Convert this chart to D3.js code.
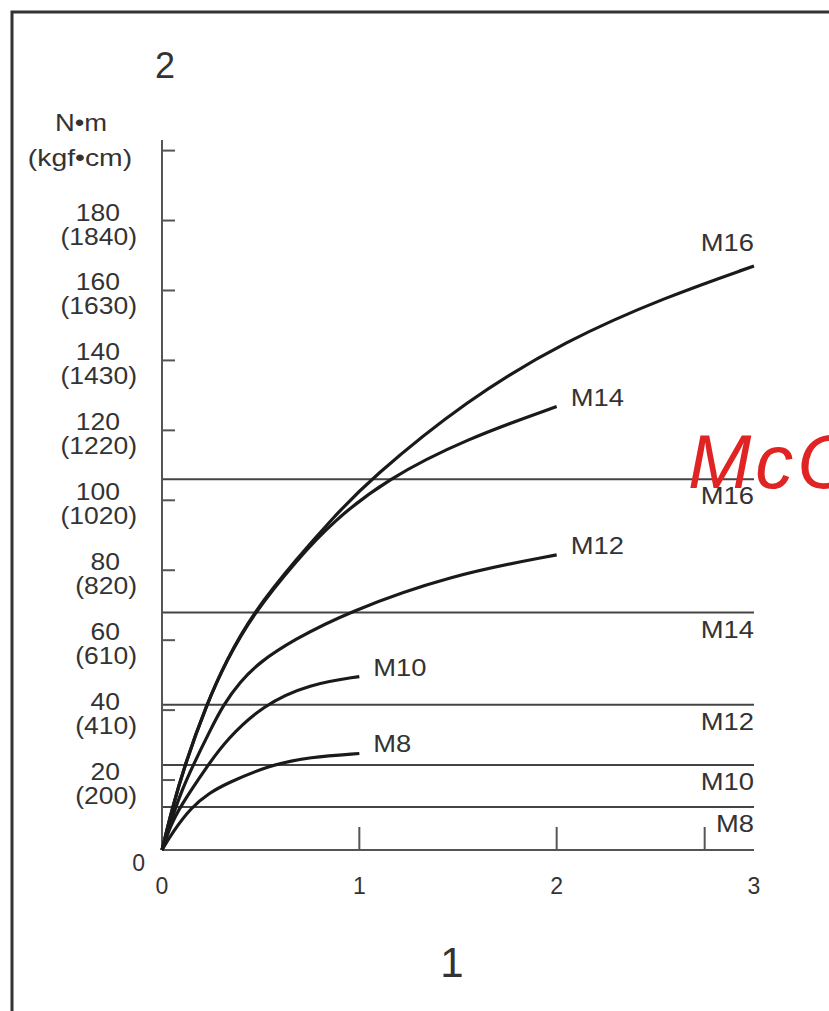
<!DOCTYPE html>
<html>
<head>
<meta charset="utf-8">
<script src="https://cdn.jsdelivr.net/npm/d3@7"></script>
<style>
  body { margin: 0; background: #fff; }
  text { font-family: "Liberation Sans", Arial, sans-serif; fill: #333; }
</style>
</head>
<body>
<svg id="chart" width="829" height="1011"></svg>
<script>
// torque curves, x in axis units, y in N·m
var curveM8  = [[0,0],[0.05,4.8],[0.149,12.3],[0.24,16.3],[0.326,19],[0.546,24.3],[0.749,26.6],[1,27.6]];
var curveM10 = [[0,0],[0.04,6.5],[0.09,12.3],[0.233,24.3],[0.326,31.5],[0.512,41.5],[0.749,47.5],[1,49.6]];
var curveM12 = [[0,0],[0.05,9],[0.1,17],[0.158,24.3],[0.242,34],[0.311,41.5],[0.394,48],[0.496,53.8],[0.664,60],[0.935,67.9],[1.458,78.6],[2,84.4]];
var curveM14 = [[0,0],[0.05,11.5],[0.115,24.3],[0.225,41.5],[0.326,54.1],[0.462,67.5],[0.681,82.8],[0.867,94],[1.137,106],[1.543,117.6],[2,126.8]];
var curveM16 = [[0,0],[0.05,11.5],[0.115,24.3],[0.225,41.5],[0.326,54.3],[0.462,67.9],[0.681,83.2],[0.867,95],[1.053,106],[1.543,128.7],[2.05,145.8],[2.556,158.2],[3,167]];

var boltNames = ["M8", "M10", "M12", "M14", "M16"];
var boltCurves = [curveM8, curveM10, curveM12, curveM14, curveM16];
// horizontal limit lines (N·m)
var limitValues = [12.3, 24.3, 41.5, 67.9, 106];

var yTicksNm  = [20, 40, 60, 80, 100, 120, 140, 160, 180];
var yTicksKgf = ["(200)", "(410)", "(610)", "(820)", "(1020)", "(1220)", "(1430)", "(1630)", "(1840)"];
var yTickMarks = [20, 40, 60, 80, 100, 120, 140, 160, 180, 200];
var xTicks = [0, 1, 2, 3];
var xTickMarks = [1, 2, 2.75];

var svg = d3.select("#chart");

var x = d3.scaleLinear().domain([0, 3]).range([162, 754]);
var y = d3.scaleLinear().domain([0, 200]).range([850, 150.6]);

// the source font is a bit wider than Liberation Sans, so stretch glyphs
function widen(sel, k) {
  sel.each(function () {
    var w = this.getComputedTextLength();
    d3.select(this).attr("textLength", w * k).attr("lengthAdjust", "spacingAndGlyphs");
  });
}

// frame
svg.append("path")
  .attr("d", "M12,1011 V12 H829")
  .attr("fill", "none").attr("stroke", "#333").attr("stroke-width", 3);

// limit lines
svg.selectAll("line.limit").data(limitValues).enter().append("line")
  .attr("class", "limit")
  .attr("x1", x(0)).attr("x2", x(3))
  .attr("y1", function (d) { return y(d); }).attr("y2", function (d) { return y(d); })
  .attr("stroke", "#444").attr("stroke-width", 2);

svg.selectAll("text.limitLabel").data(limitValues).enter().append("text")
  .attr("class", "limitLabel")
  .attr("x", x(3)).attr("y", function (d) { return y(d) + 25; })
  .attr("text-anchor", "end").attr("font-size", 24)
  .text(function (d, i) { return boltNames[i]; })
  .call(widen, 1.14);

// axes
svg.append("line").attr("x1", x(0)).attr("x2", x(0)).attr("y1", y(0)).attr("y2", 140)
  .attr("stroke", "#555").attr("stroke-width", 2);
svg.append("line").attr("x1", x(0)).attr("x2", x(3)).attr("y1", y(0)).attr("y2", y(0))
  .attr("stroke", "#555").attr("stroke-width", 2);

svg.selectAll("line.ytick").data(yTickMarks).enter().append("line")
  .attr("class", "ytick")
  .attr("x1", x(0)).attr("x2", x(0) + 13)
  .attr("y1", function (d) { return y(d); }).attr("y2", function (d) { return y(d); })
  .attr("stroke", "#555").attr("stroke-width", 2);

svg.selectAll("line.xtick").data(xTickMarks).enter().append("line")
  .attr("class", "xtick")
  .attr("x1", function (d) { return x(d); }).attr("x2", function (d) { return x(d); })
  .attr("y1", y(0)).attr("y2", y(0) - 23)
  .attr("stroke", "#555").attr("stroke-width", 2);

// y labels
svg.selectAll("text.ynm").data(yTicksNm).enter().append("text")
  .attr("class", "ynm")
  .attr("x", 120).attr("y", function (d) { return y(d); })
  .attr("text-anchor", "end").attr("font-size", 23)
  .text(function (d) { return d; })
  .call(widen, 1.15);
svg.selectAll("text.ykgf").data(yTicksKgf).enter().append("text")
  .attr("class", "ykgf")
  .attr("x", 137).attr("y", function (d, i) { return y(yTicksNm[i]) + 24; })
  .attr("text-anchor", "end").attr("font-size", 23)
  .text(function (d) { return d; })
  .call(widen, 1.15);
svg.append("text").attr("x", 145).attr("y", y(0) + 21)
  .attr("text-anchor", "end").attr("font-size", 23).text("0");

svg.append("text").attr("x", 81).attr("y", 131)
  .attr("text-anchor", "middle").attr("font-size", 24)
  .text("N•m").call(widen, 1.14);
svg.append("text").attr("x", 80).attr("y", 166)
  .attr("text-anchor", "middle").attr("font-size", 24)
  .text("(kgf•cm)").call(widen, 1.18);

// x labels
svg.selectAll("text.xlab").data(xTicks).enter().append("text")
  .attr("class", "xlab")
  .attr("x", function (d) { return x(d); }).attr("y", 894)
  .attr("text-anchor", "middle").attr("font-size", 23)
  .text(function (d) { return d; });

// axis titles
svg.append("text").attr("x", 165).attr("y", 78)
  .attr("text-anchor", "middle").attr("font-size", 36).text("2");
svg.append("text").attr("x", 452).attr("y", 977)
  .attr("text-anchor", "middle").attr("font-size", 42).text("1");

// curves
var line = d3.line()
  .x(function (d) { return x(d[0]); })
  .y(function (d) { return y(d[1]); })
  .curve(d3.curveBasis);

svg.selectAll("path.curve").data(boltCurves).enter().append("path")
  .attr("class", "curve")
  .attr("d", line)
  .attr("fill", "none").attr("stroke", "#1a1a1a").attr("stroke-width", 3.2);

// curve end labels
svg.selectAll("text.curveLabel").data(boltCurves).enter().append("text")
  .attr("class", "curveLabel")
  .attr("font-size", 24)
  .attr("x", function (d, i) {
    var e = d[d.length - 1];
    return i === 4 ? x(e[0]) : x(e[0]) + 14;
  })
  .attr("y", function (d, i) {
    var e = d[d.length - 1];
    return i === 4 ? y(e[1]) - 15 : y(e[1]) - 1;
  })
  .attr("text-anchor", function (d, i) { return i === 4 ? "end" : "start"; })
  .text(function (d, i) { return boltNames[i]; })
  .call(widen, 1.14);

// red watermark
svg.append("text").attr("x", 688).attr("y", 488)
  .attr("font-size", 76).attr("font-style", "italic")
  .attr("letter-spacing", 4)
  .style("fill", "#e02424")
  .text("McC");
</script>
</body>
</html>
